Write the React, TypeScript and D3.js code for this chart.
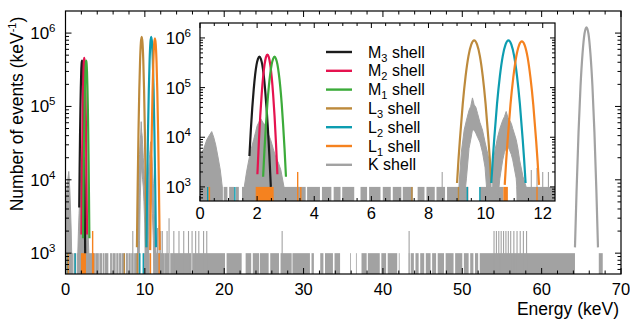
import React from "react";
import * as d3 from "d3";

type Pt = [number, number];
type Band = [number, number, number];

const FONT = "'Liberation Sans', Arial, Helvetica, sans-serif";

// Peak outlines per shell: [energy (keV), events per keV]
const m3Shell: Pt[] = [[1.73,4200],[1.78,14000],[1.83,39000],[1.88,91000],[1.93,180000],[1.98,290000],[2.03,380000],[2.08,420000],[2.13,380000],[2.18,290000],[2.23,180000],[2.28,91000],[2.33,39000],[2.38,14000],[2.43,4200],[2.48,1000]];
const m2Shell: Pt[] = [[2.01,1800],[2.06,7700],[2.11,27000],[2.16,74000],[2.21,165000],[2.26,290000],[2.31,410000],[2.36,460000],[2.41,410000],[2.46,290000],[2.51,165000],[2.56,74000],[2.61,27000],[2.66,7700],[2.71,1800]];
const m1Shell: Pt[] = [[2.21,1600],[2.26,5900],[2.31,18000],[2.36,48000],[2.41,105000],[2.46,190000],[2.51,295000],[2.56,380000],[2.61,420000],[2.66,380000],[2.71,295000],[2.76,190000],[2.81,105000],[2.86,48000],[2.91,18000],[2.96,5900],[3.01,1600]];
const l3Shell: Pt[] = [[9.0,1200],[9.05,3500],[9.1,8900],[9.2,47000],[9.3,170000],[9.4,430000],[9.5,740000],[9.6,890000],[9.7,740000],[9.8,430000],[9.9,170000],[10.0,47000],[10.1,8900],[10.15,3500],[10.2,1200]];
const l2Shell: Pt[] = [[10.2,1200],[10.25,3500],[10.3,8900],[10.4,47000],[10.5,170000],[10.6,430000],[10.7,740000],[10.8,890000],[10.9,740000],[11.0,430000],[11.1,170000],[11.2,47000],[11.3,8900],[11.35,3500],[11.4,1200]];
const l1Shell: Pt[] = [[10.67,1100],[10.72,3300],[10.77,8500],[10.87,45000],[10.97,160000],[11.07,410000],[11.17,710000],[11.27,850000],[11.37,710000],[11.47,410000],[11.57,160000],[11.67,45000],[11.77,8500],[11.82,3300],[11.87,1100]];
const kShell: Pt[] = [[64.2,1200],[64.4,7000],[64.65,45000],[64.9,190000],[65.15,520000],[65.4,980000],[65.65,1200000],[65.9,980000],[66.15,520000],[66.4,190000],[66.65,45000],[66.9,7000],[67.1,1200]];

// K shell low-energy structures: [energy, lower edge, upper edge] (0 = empty bin)
const kBandA: Band[] = [[0.0,0,4500],[0.12,0,5600],[0.24,0,9000],[0.33,0,11000],[0.41,0,13000],[0.48,0,10000],[0.55,0,7000],[0.63,0,4000],[0.71,0,2200],[0.78,0,1000]];
const kBandB: Band[] = [[1.55,0,1000],[1.63,0,2000],[1.71,0,3500],[1.8,0,6000],[1.88,0,9000],[1.95,0,13000],[2.0,0,17000],[2.06,0,20000],[2.12,0,24000],[2.2,0,20000],[2.3,0,17000],[2.38,0,12000],[2.47,0,9000],[2.56,0,6000],[2.65,0,4000],[2.75,0,3000],[2.83,0,2200],[2.94,0,1000]];
const kBandC: Band[] = [[9.07,0,1100],[9.15,0,5000],[9.25,0,14000],[9.33,1500,22000],[9.42,6000,35000],[9.48,9000,42000],[9.54,14000,62000],[9.6,14000,45000],[9.66,12000,40000],[9.72,10000,30000],[9.8,8000,20000],[9.89,5000,14000],[9.98,2500,8000],[10.07,0,4800],[10.19,0,2200]];
const kBandD: Band[] = [[10.25,0,2600],[10.33,0,5500],[10.42,0,10000],[10.5,1500,15000],[10.6,3500,22000],[10.66,5000,26000],[10.72,6000,33000],[10.78,6500,25000],[10.84,5500,22000],[10.9,4500,19000],[10.95,3500,15000],[11.07,1500,9000],[11.13,0,6000],[11.19,0,3500],[11.31,0,1600],[11.42,0,1000]];

// K shell one-count floor: energy ranges (keV) with filled bins
const kFloor: [number, number][] = [
  [0,0.78],[0.83,0.96],[1.02,1.2],[1.25,1.36],[1.47,3.7],[3.75,4.2],[4.27,4.6],[4.68,4.92],[4.98,5.4],
  [5.62,5.85],[5.92,6.32],[6.4,6.68],[6.75,7.05],[7.1,7.45],[7.62,7.86],[7.93,8.22],[8.28,8.58],[8.65,9.4],
  [9.8,10.62],[11.08,12.45],[12.45,13.05],[13.2,15.85],[16.0,20.1],[20.3,22.2],[22.7,23.4],[23.6,24.4],
  [24.5,25.6],[25.8,26.9],[27.1,28.5],[28.6,30.8],[31.0,31.3],[32.1,32.5],[32.7,33.7],[33.9,34.6],
  [35.85,35.95],[36.6,36.7],[37.3,37.95],[38.1,39.6],[39.8,40.4],[40.6,41.8],[42.0,42.1],[43.25,43.35],
  [43.5,43.9],[44.1,44.5],[44.7,45.2],[45.4,46.0],[46.2,46.7],[46.9,47.7],[47.9,48.9],[49.1,50.0],
  [50.2,50.8],[51.0,51.4],[51.6,52.0],[52.2,64.2],[67.2,67.7],
];

// K shell isolated bins above the floor
const kSpikes: Pt[] = [
  [8.48,2000],[11.6,2200],[11.8,2400],[12.0,2000],[12.2,2000],[12.8,2000],[13.05,3000],[13.65,2000],
  [14.3,2000],[14.9,2000],[15.5,2000],[15.95,2000],[16.4,2000],[16.8,2000],[17.4,2000],[17.8,2000],
  [27.3,2000],[43.3,2000],[54.0,2000],[54.3,2000],[54.6,2000],[54.9,2000],[55.2,2000],[55.5,2000],
  [55.8,2000],[56.1,2000],[56.5,2000],[56.9,2000],[57.3,2000],[57.7,2000],[58.1,2000],
];

// Residual single bins of the L shells
const l3Bins: Pt[] = [[7.42,1000],[9.05,1000]];
const l2Bins: Pt[] = [[0.27,1000],[1.22,1000],[9.36,1000],[9.8,1000]];
const l1Bins: Pt[] = [[0.33,1000],[3.42,2000],[3.53,1000],[11.8,1000]];
const l1Blocks: [number, number][] = [[1.95,2.58],[10.62,10.78]];

const shells = [
  { name: "M", sub: "3", color: "#1c1c1c", peak: m3Shell },
  { name: "M", sub: "2", color: "#e5134f", peak: m2Shell },
  { name: "M", sub: "1", color: "#3cab3a", peak: m1Shell },
  { name: "L", sub: "3", color: "#bd8a3c", peak: l3Shell },
  { name: "L", sub: "2", color: "#0d9db0", peak: l2Shell },
  { name: "L", sub: "1", color: "#f5821f", peak: l1Shell },
  { name: "K", sub: "", color: "#a2a2a2", peak: kShell },
];
const GRAY = "#a2a2a2";

const yDomain: [number, number] = [520, 2e6];
const yDecades = [3, 4, 5, 6];

type Box = { left: number; right: number; top: number; bottom: number };

const mainBox: Box = { left: 65.5, right: 621, top: 11, bottom: 274 };
const insetBox: Box = { left: 200, right: 555, top: 23, bottom: 201 };

function Panel(props: {
  id: string; box: Box; xDomain: [number, number]; majorStep: number; minorStep: number;
  majorLen: number; minorLen: number; xLabelDy: number; yLabelGap: number; insetBg?: boolean;
}) {
  const { id, box, xDomain, majorStep, minorStep, majorLen, minorLen, xLabelDy, yLabelGap } = props;
  const x = d3.scaleLinear().domain(xDomain).range([box.left, box.right]);
  const y = d3.scaleLog().domain(yDomain).range([box.bottom, box.top]);
  const yv = (v: number) => (v <= yDomain[0] ? box.bottom : y(v));

  const line = d3.line<Pt>().x(d => x(d[0])).y(d => yv(d[1])).curve(d3.curveMonotoneX);
  const area = d3.area<Band>().x(d => x(d[0])).y0(d => yv(d[1])).y1(d => yv(d[2]));

  const eps = 1e-9;
  const majors = d3.range(xDomain[0], xDomain[1] + eps, majorStep);
  const minors = d3.range(xDomain[0], xDomain[1] + eps, minorStep)
    .filter(v => Math.abs(v / majorStep - Math.round(v / majorStep)) > 1e-6);
  const yMajors = yDecades.map(e => Math.pow(10, e));
  const yMinors: number[] = [];
  for (let e = 2; e <= 6; e++) for (let k = 2; k <= 9; k++) {
    const v = k * Math.pow(10, e);
    if (v > yDomain[0] && v < yDomain[1]) yMinors.push(v);
  }

  const clip = `clip-${id}`;
  const floorTop = y(1000);

  return (
    <g>
      <defs>
        <clipPath id={clip}>
          <rect x={box.left} y={box.top} width={box.right - box.left} height={box.bottom - box.top} />
        </clipPath>
      </defs>
      {props.insetBg && (
        <rect x={box.left} y={box.top} width={box.right - box.left} height={box.bottom - box.top} fill="#fff" />
      )}
      <g clipPath={`url(#${clip})`}>
        {/* K shell floor */}
        {kFloor.map((s, i) => (
          <rect key={`f${i}`} x={x(s[0])} y={floorTop} width={Math.max(0.8, x(s[1]) - x(s[0]))}
            height={box.bottom - floorTop} fill={GRAY} />
        ))}
        {kSpikes.map((s, i) => (
          <line key={`s${i}`} x1={x(s[0])} x2={x(s[0])} y1={box.bottom} y2={yv(s[1])} stroke={GRAY} strokeWidth={1.1} />
        ))}
        {[kBandA, kBandB, kBandC, kBandD].map((b, i) => (
          <path key={`b${i}`} d={area(b) || ""} fill={GRAY} stroke={GRAY} strokeWidth={1} />
        ))}
        {/* residual L-shell bins */}
        {l3Bins.map((s, i) => (
          <line key={`l3${i}`} x1={x(s[0])} x2={x(s[0])} y1={box.bottom} y2={yv(s[1])} stroke={shells[3].color} strokeWidth={1.4} />
        ))}
        {l2Bins.map((s, i) => (
          <line key={`l2${i}`} x1={x(s[0])} x2={x(s[0])} y1={box.bottom} y2={yv(s[1])} stroke={shells[4].color} strokeWidth={1.4} />
        ))}
        {l1Blocks.map((s, i) => (
          <rect key={`l1b${i}`} x={x(s[0])} y={floorTop} width={Math.max(1.4, x(s[1]) - x(s[0]))}
            height={box.bottom - floorTop} fill={shells[5].color} />
        ))}
        {l1Bins.map((s, i) => (
          <line key={`l1${i}`} x1={x(s[0])} x2={x(s[0])} y1={box.bottom} y2={yv(s[1])} stroke={shells[5].color} strokeWidth={1.4} />
        ))}
        {/* peak outlines */}
        {shells.map((s, i) => (
          <path key={`p${i}`} d={line(s.peak) || ""} fill="none" stroke={s.color} strokeWidth={2.2} strokeLinejoin="round" />
        ))}
      </g>
      {/* frame */}
      <rect x={box.left} y={box.top} width={box.right - box.left} height={box.bottom - box.top}
        fill="none" stroke="#000" strokeWidth={1.2} />
      {/* x ticks */}
      {majors.map(v => (
        <g key={`xm${v}`}>
          <line x1={x(v)} x2={x(v)} y1={box.bottom} y2={box.bottom - majorLen} stroke="#000" />
          <line x1={x(v)} x2={x(v)} y1={box.top} y2={box.top + majorLen} stroke="#000" />
          <text x={x(v)} y={box.bottom + xLabelDy} textAnchor="middle" fontSize={16.5} fontFamily={FONT}>{v}</text>
        </g>
      ))}
      {minors.map(v => (
        <g key={`xn${v}`}>
          <line x1={x(v)} x2={x(v)} y1={box.bottom} y2={box.bottom - minorLen} stroke="#000" />
          <line x1={x(v)} x2={x(v)} y1={box.top} y2={box.top + minorLen} stroke="#000" />
        </g>
      ))}
      {/* y ticks */}
      {yMajors.map((v, i) => (
        <g key={`ym${v}`}>
          <line x1={box.left} x2={box.left + majorLen} y1={y(v)} y2={y(v)} stroke="#000" />
          <line x1={box.right} x2={box.right - majorLen} y1={y(v)} y2={y(v)} stroke="#000" />
          <text x={box.left - yLabelGap} y={y(v) + 6} textAnchor="end" fontSize={17} fontFamily={FONT}>
            10<tspan fontSize={11.5} dy={-7}>{yDecades[i]}</tspan>
          </text>
        </g>
      ))}
      {yMinors.map(v => (
        <g key={`yn${v}`}>
          <line x1={box.left} x2={box.left + minorLen} y1={y(v)} y2={y(v)} stroke="#000" />
          <line x1={box.right} x2={box.right - minorLen} y1={y(v)} y2={y(v)} stroke="#000" />
        </g>
      ))}
    </g>
  );
}

function Legend() {
  const x0 = 326, x1 = 352, tx = 368, y0 = 52, dy = 18.8;
  return (
    <g fontFamily={FONT} fontSize={16}>
      {shells.map((s, i) => {
        const yy = y0 + i * dy;
        return (
          <g key={i}>
            <line x1={x0} x2={x1} y1={yy} y2={yy} stroke={s.color} strokeWidth={2.4} />
            <text x={tx} y={yy + 5.5}>
              {s.name}
              {s.sub ? <tspan fontSize={11} dy={4}>{s.sub}</tspan> : null}
              <tspan dy={s.sub ? -4 : 0}> shell</tspan>
            </text>
          </g>
        );
      })}
    </g>
  );
}

export default function App() {
  return (
    <svg width={630} height={321} style={{ display: "block", position: "absolute", left: 0, top: 0, background: "#fff" }}>
      <rect width={630} height={321} fill="#fff" />
      <Panel id="main" box={mainBox} xDomain={[0, 70]} majorStep={10} minorStep={2}
        majorLen={6} minorLen={3.5} xLabelDy={21} yLabelGap={10} />
      <Panel id="inset" box={insetBox} xDomain={[0, 12.43]} majorStep={2} minorStep={0.5}
        majorLen={5} minorLen={3} xLabelDy={18} yLabelGap={9} insetBg />
      <Legend />
      <text x={619} y={314.5} textAnchor="end" fontSize={17.5} fontFamily={FONT}>Energy (keV)</text>
      <text transform="translate(23,114) rotate(-90)" textAnchor="middle" fontSize={17.5} fontFamily={FONT}>
        Number of events (keV<tspan fontSize={11} dy={-7}>-1</tspan><tspan dy={7}>)</tspan>
      </text>
    </svg>
  );
}
